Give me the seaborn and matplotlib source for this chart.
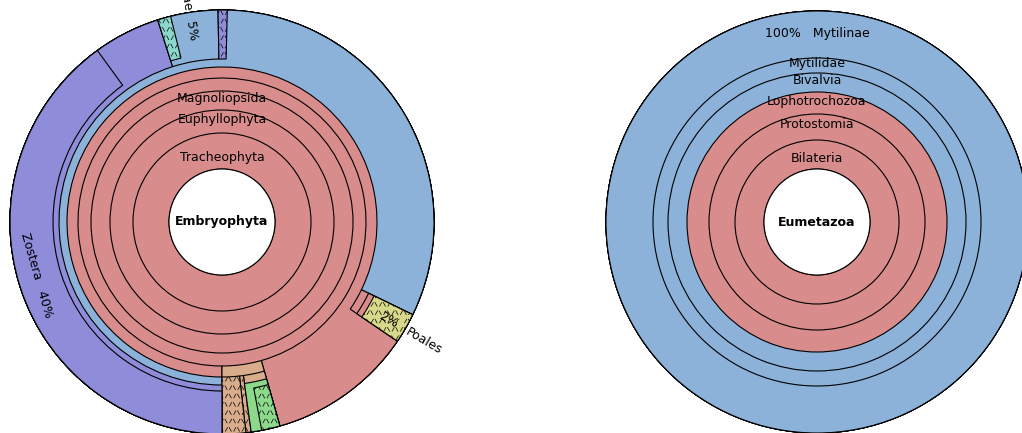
import numpy as np
import matplotlib
matplotlib.use("Agg")
import matplotlib.pyplot as plt
from matplotlib import hatch as mhatch
from matplotlib.path import Path
from matplotlib.patches import Wedge, Circle
import seaborn as sns

sns.set_theme(style="white")
plt.rcParams["font.family"] = ["DejaVu Sans"]
plt.rcParams["text.color"] = "black"
plt.rcParams["hatch.linewidth"] = 0.5


class ZigzagHatch(mhatch.HatchPatternBase):
    """Staggered rows of short '/' and '\\' strokes, selected with the 'z' code."""

    def __init__(self, hatch, density):
        self.n = int(hatch.count("z") * 6)
        self.num_vertices = self.n * self.n * 4

    def set_vertices_and_codes(self, vertices, codes):
        s = 1.0 / self.n
        k = 0
        for row in range(self.n):
            shift = 0.5 * s if row % 2 else 0.0
            for col in range(self.n):
                x0 = (col * s + shift) % 1.0
                y0 = row * s
                vertices[k:k + 4] = [(x0 + 0.05 * s, y0 + 0.25 * s),
                                     (x0 + 0.30 * s, y0 + 0.70 * s),
                                     (x0 + 0.50 * s, y0 + 0.70 * s),
                                     (x0 + 0.75 * s, y0 + 0.25 * s)]
                codes[k:k + 4] = [Path.MOVETO, Path.LINETO, Path.MOVETO, Path.LINETO]
                k += 4


mhatch._hatch_types.append(ZigzagHatch)

# ---------------- plant lineage (left sunburst) ----------------
plant_taxa = ["Embryophyta", "Tracheophyta", "Euphyllophyta", "Magnoliopsida",
              "Mesangiospermae", "Liliopsida", "Alismatales", "Zosteraceae",
              "Zostera", "Cymodoceaceae", "Halodule", "Posidonia",
              "Petrosaviidae", "commelinids", "Poales",
              "eudicotyledons", "Gunneridae", "Pentapetalae", "fabids",
              "Caryophyllales", "asterids"]
plant_parent = [-1, 0, 1, 2, 3, 4, 5, 6, 7, 6, 9, 6, 5, 12, 13, 4, 15, 16, 17, 15, 15]
plant_share = [100, 100, 100, 100, 100, 95.6, 82.2, 45.1, 40.0, 4.6, 1.0, 0.7,
               2.3, 2.3, 2.3, 4.4, 2.2, 2.2, 1.4, 0.4, 1.8]
plant_color = ["white", "pink", "pink", "pink", "pink", "pink", "blue", "purple",
               "purple", "blue", "teal", "purple", "pink", "pink", "yellow",
               "tan", "tan", "green", "green", "tan", "tan"]
plant_hatched = [False, False, False, False, False, False, False, False, False,
                 False, True, True, False, False, True, False, False, False,
                 True, True, True]
plant_rings = [53, 89, 112, 131, 144, 155, 163, 169, 212]

# ---------------- animal lineage (right sunburst) ----------------
animal_taxa = ["Eumetazoa", "Bilateria", "Protostomia", "Lophotrochozoa",
               "Bivalvia", "Mytilidae", "Mytilinae"]
animal_parent = [-1, 0, 1, 2, 3, 4, 5]
animal_share = [100, 100, 100, 100, 100, 100, 100]
animal_color = ["white", "pink", "pink", "pink", "blue", "blue", "blue"]
animal_hatched = [False] * 7
animal_rings = [53, 82, 108, 130, 149, 164, 211]

# pastel hues on a common lightness / saturation
hues = {"pink": 0, "tan": 25, "yellow": 60, "green": 120, "teal": 170,
        "blue": 210, "purple": 242}
palette = {k: sns.hls_palette(1, h=v / 360, l=0.70, s=0.50)[0] for k, v in hues.items()}
palette["white"] = "white"

W, H = 1022, 433
fig = plt.figure(figsize=(W / 100, H / 100), dpi=100)
ax = fig.add_axes([0, 0, 1, 1])
ax.set_xlim(0, W)
ax.set_ylim(0, H)
ax.set_aspect("equal")
ax.axis("off")

FS = 9
LW = 0.8


def layout(parent, share):
    """Start angle (degrees clockwise from the bottom) and depth of each node."""
    n = len(parent)
    start = [0.0] * n
    depth = [0] * n
    used = {}
    for i in range(n):
        p = parent[i]
        if p < 0:
            continue
        depth[i] = depth[p] + 1
        offset = used.get(p, 0.0)
        start[i] = start[p] + offset
        used[p] = offset + share[i] * 3.6
    return start, depth


def draw_sunburst(cx, cy, taxa, parent, share, color, hatched, rings):
    start, depth = layout(parent, share)
    r_out = rings[-1]
    order = sorted(range(len(taxa)), key=lambda i: depth[i])
    for i in order:
        if depth[i] == 0:
            continue
        s0 = start[i]
        s1 = s0 + share[i] * 3.6
        r_in = rings[depth[i] - 1]
        ax.add_patch(Wedge((cx, cy), r_out, 270 - s1, 270 - s0, width=r_out - r_in,
                           facecolor=palette[color[i]], edgecolor="black", lw=LW,
                           hatch="zz" if hatched[i] else None))
    ax.add_patch(Circle((cx, cy), rings[0], facecolor="white", edgecolor="black", lw=LW))
    ax.text(cx, cy, taxa[0], ha="center", va="center", fontsize=FS, fontweight="bold")
    return start, depth


def ring_label(cx, cy, rings, d, text):
    mid = (rings[d - 1] + rings[d]) / 2
    r = rings[0] + 11 if d == 1 else mid + 2
    ax.text(cx, cy + r, text, ha="center", va="center", fontsize=FS)


def polar(cx, cy, r, ang):
    a = np.deg2rad(ang)
    return cx + r * np.cos(a), cy + r * np.sin(a)


# left chart
LCX, LCY = 222, H - 222
draw_sunburst(LCX, LCY, plant_taxa, plant_parent, plant_share, plant_color,
              plant_hatched, plant_rings)
for d in (1, 2, 3):
    ring_label(LCX, LCY, plant_rings, d, plant_taxa[d])

# tangential label on the large leaf
x, y = polar(LCX, LCY, 193, 196)
ax.text(x, y, f"{plant_taxa[8]}   {plant_share[8]:.0f}%", rotation=196 - 270,
        rotation_mode="anchor", ha="center", va="center", fontsize=FS)

# radial labels on the narrow leaves: share inside, name just outside the rim
for idx, ang in ((9, 99.3), (14, -30.5)):
    pct = f"{plant_share[idx]:.0f}%"
    if ang > 90 or ang < -90:
        rot = ang - 180
        ha_name = "right"
    else:
        rot = ang
        ha_name = "left"
    x, y = polar(LCX, LCY, 193, ang)
    ax.text(x, y, pct, rotation=rot, rotation_mode="anchor", ha="center",
            va="center", fontsize=FS)
    x, y = polar(LCX, LCY, 214, ang)
    ax.text(x, y, plant_taxa[idx], rotation=rot, rotation_mode="anchor",
            ha=ha_name, va="center", fontsize=FS)

# right chart
RCX, RCY = 817, H - 222
draw_sunburst(RCX, RCY, animal_taxa, animal_parent, animal_share, animal_color,
              animal_hatched, animal_rings)
for d in range(1, 6):
    ring_label(RCX, RCY, animal_rings, d, animal_taxa[d])
ax.text(RCX, RCY + 188, f"{animal_share[6]:.0f}%   {animal_taxa[6]}",
        ha="center", va="center", fontsize=FS)

fig.savefig("out.png", dpi=100)
